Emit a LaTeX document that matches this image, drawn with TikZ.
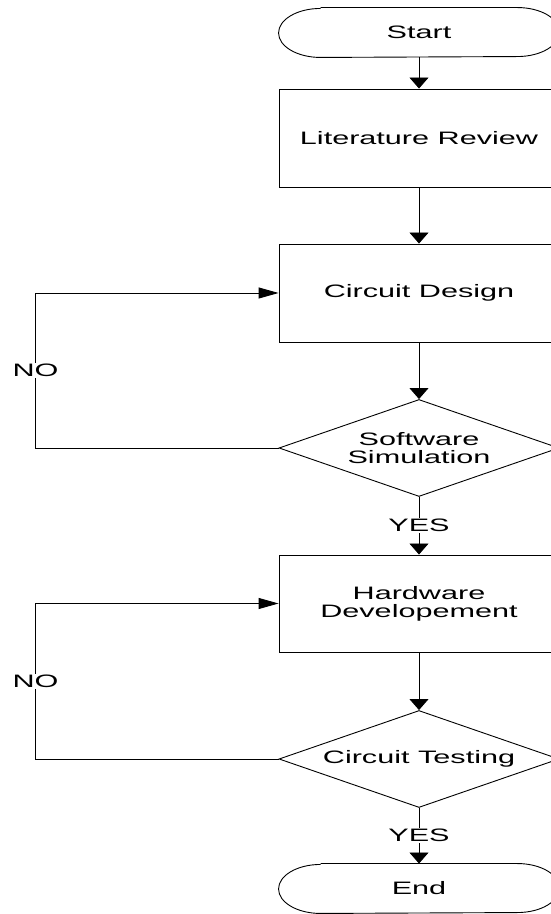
\documentclass[tikz,border=0pt]{standalone}
\usepackage{fontspec}
\newfontfamily\chartfont[FakeStretch=1.7]{Liberation Sans}
\usetikzlibrary{arrows.meta, shapes.geometric}

\begin{document}
\begin{tikzpicture}[x=1pt, y=1pt, line width=0.9pt,
    every node/.style={font=\chartfont\fontsize{18pt}{18pt}\selectfont, align=center},
    box/.style={draw, minimum width=280pt, minimum height=98pt, inner sep=0pt},
    decision/.style={draw, diamond, aspect=2.9, minimum width=280pt, minimum height=97pt, inner sep=0pt},
    term/.style={minimum width=280pt, minimum height=49pt, inner sep=0pt,
        append after command={\pgfextra{\let\termnode\tikzlastnode
            \draw ([xshift=42pt]\termnode.north west) -- ([xshift=-42pt]\termnode.north east)
                arc[start angle=90, end angle=-90, x radius=42pt, y radius=24.5pt]
                -- ([xshift=42pt]\termnode.south west)
                arc[start angle=270, end angle=90, x radius=42pt, y radius=24.5pt];}}},
    vflow/.style={-{Triangle[length=11pt, width=19pt]}},
    hflow/.style={-{Triangle[length=20pt, width=11pt]}},
    lbl/.style={fill=white, inner sep=1pt}]
    % Frame
    \useasboundingbox (0,0) rectangle (551,914);
    \clip (0,0) rectangle (551,914);
    % Steps
    \node[term] (start) at (419,881.5) {Start};
    \node[box] (lit) at (419,776) {Literature Review};
    \node[box] (design) at (419,621) {Circuit Design};
    \node[decision] (sim) at (419,466) {Software\\Simulation};
    \node[box, minimum height=97pt] (hw) at (419,310.5) {Hardware\\Developement};
    \node[decision] (test) at (419,155) {Circuit Testing};
    \node[term] (end) at (419,25.5) {End};
    % Main flow
    \draw[vflow] (start) -- (lit);
    \draw[vflow] (lit) -- (design);
    \draw[vflow] (design) -- (sim);
    \draw[vflow] (sim) -- node[lbl] {YES} (hw);
    \draw[vflow] (hw) -- (test);
    \draw[vflow] (test) -- node[lbl] {YES} (end);
    % Loops back
    \draw[hflow] (sim.west) -- ++(-243,0) |- node[pos=0.25, lbl] {NO} (design.west);
    \draw[hflow] (test.west) -- ++(-243,0) |- node[pos=0.25, lbl] {NO} (hw.west);
\end{tikzpicture}
\end{document}
